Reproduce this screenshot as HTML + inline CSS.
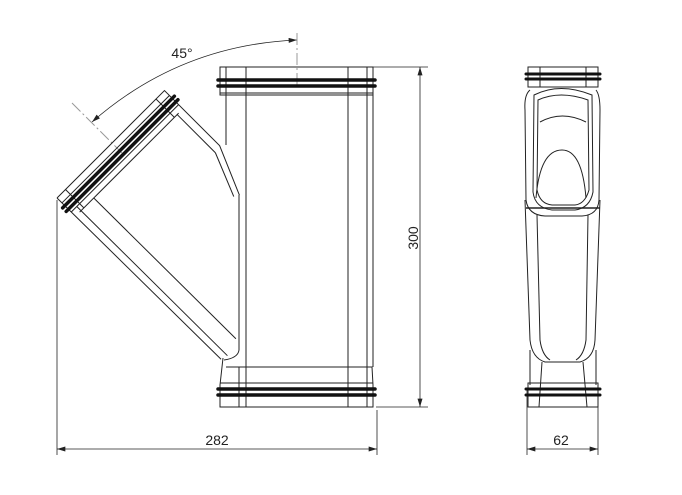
<!DOCTYPE html>
<html><head><style>body{margin:0;background:#fff}svg{display:block}</style></head><body>
<svg width="682" height="495" viewBox="0 0 682 495" xmlns="http://www.w3.org/2000/svg" font-family="Liberation Sans, sans-serif">
<defs>
<marker id="a" viewBox="0 0 10 6" refX="10" refY="3" markerWidth="14" markerHeight="5" orient="auto-start-reverse" markerUnits="userSpaceOnUse"><path d="M0,0L10,3L0,6z" fill="#222"/></marker>
</defs>
<g fill="none" stroke="#222" stroke-width="1">
<rect x="220" y="67" width="153" height="28"/>
<line x1="226" y1="67" x2="226" y2="145"/>
<line x1="367" y1="67" x2="367" y2="367"/>
<line x1="246" y1="67" x2="246" y2="407"/>
<line x1="348" y1="67" x2="348" y2="407"/>
<line x1="220" y1="93" x2="373" y2="93"/>
<line x1="373" y1="95" x2="373" y2="367"/>
<line x1="239" y1="195" x2="239" y2="350"/>
<path d="M239,350 Q238,358 224,360"/>
<path d="M223,358 L222,367 L220,385 L220,407 L373,407 L373,385 L372,367 L226,367"/>
<line x1="239" y1="367" x2="239" y2="407"/>
<line x1="367" y1="367" x2="367" y2="407"/>
<line x1="220" y1="383" x2="373" y2="383"/>
<line x1="373" y1="67" x2="428" y2="67" stroke-width="0.8"/>
<line x1="376" y1="407" x2="428" y2="407" stroke-width="0.8"/>
<line x1="420" y1="67" x2="420" y2="407" stroke-width="0.8" marker-start="url(#a)" marker-end="url(#a)"/>
<line x1="57" y1="200" x2="57" y2="455" stroke-width="0.8"/>
<line x1="377" y1="410" x2="377" y2="455" stroke-width="0.8"/>
<line x1="57" y1="449" x2="377" y2="449" stroke-width="0.8" marker-start="url(#a)" marker-end="url(#a)"/>
<line x1="527" y1="390" x2="527" y2="455" stroke-width="0.8"/>
<line x1="598" y1="390" x2="598" y2="455" stroke-width="0.8"/>
<line x1="527" y1="449" x2="598" y2="449" stroke-width="0.8" marker-start="url(#a)" marker-end="url(#a)"/>
<path d="M297,40 Q180,45 92,122" stroke-width="0.8" marker-start="url(#a)" marker-end="url(#a)"/>
</g>
<g stroke="#999" stroke-width="1" stroke-dasharray="12,3,2,3">
<line x1="297" y1="33" x2="297" y2="86"/>
<line x1="72" y1="103" x2="122" y2="153"/>
</g>
<g stroke="#111" stroke-width="3.5" stroke-linecap="round">
<line x1="218" y1="80" x2="375" y2="80"/><line x1="218" y1="86" x2="375" y2="86"/>
<line x1="218" y1="389" x2="375" y2="389"/><line x1="218" y1="395" x2="375" y2="395"/>
</g>
<g transform="translate(57,198) rotate(-45)" fill="none" stroke="#222">
<path d="M0,0 L152,0 L152,78 L131,127"/>
<path d="M0,0 L2,230"/>
<line x1="0" y1="7" x2="152" y2="7"/>
<line x1="0" y1="20" x2="152" y2="20"/>
<line x1="6" y1="26" x2="146" y2="26"/>
<line x1="12" y1="0" x2="12" y2="26"/>
<line x1="140" y1="0" x2="140" y2="26"/>
<line x1="8" y1="20" x2="9" y2="232"/>
<line x1="26" y1="26" x2="27" y2="226"/>
<line x1="144" y1="26" x2="144" y2="80"/>
<line x1="144" y1="80" x2="126" y2="124"/>
<g stroke="#111" stroke-width="3.5" stroke-linecap="round">
<line x1="-3" y1="11" x2="155" y2="11"/><line x1="-3" y1="16" x2="155" y2="16"/>
</g>
</g>
<g fill="none" stroke="#222">
<rect x="528" y="67" width="70" height="20"/>
<line x1="540" y1="67" x2="540" y2="87"/><line x1="586" y1="67" x2="586" y2="87"/>
<path d="M530,90 Q524,95 525,110 L526,200 Q528,215 545,216 L582,216 Q598,215 599,200 L600,110 Q600,95 596,90"/>
<path d="M534,95 Q560,82 592,95 L593,192 Q590,208 575,210 L552,210 Q535,208 533,192 Z"/>
<path d="M538,100 Q560,90 588,100 L589,190 Q585,204 575,205 L552,205 Q540,204 537,190 Z"/>
<path d="M536,198 Q540,150 562,150 Q582,150 586,198"/>
<path d="M540,122 Q562,110 586,122"/>
<path d="M525,200 L530,340 Q532,358 545,362 L580,362 Q594,358 595,340 L600,200"/>
<path d="M537,215 L540,340 Q542,355 550,360"/><path d="M588,215 L586,340 Q584,355 576,360"/>
<path d="M530,350 L530,385 M596,350 L596,385 M542,362 L539,407 M583,362 L587,407"/>
<rect x="528" y="383" width="70" height="24"/>
<line x1="526" y1="208" x2="600" y2="208" stroke-width="1.5"/>
</g>
<g stroke="#111" stroke-width="3" stroke-linecap="round">
<line x1="526" y1="74" x2="600" y2="74"/><line x1="526" y1="79" x2="600" y2="79"/>
<line x1="526" y1="389" x2="600" y2="389"/><line x1="526" y1="395" x2="600" y2="395"/>
</g>
<g fill="#222" font-size="14">
<text x="182" y="58" text-anchor="middle">45°</text>
<text x="217" y="445" text-anchor="middle">282</text>
<text x="561" y="445" text-anchor="middle">62</text>
<text transform="translate(418,238) rotate(-90)" text-anchor="middle">300</text>
</g>
</svg>
</body></html>
